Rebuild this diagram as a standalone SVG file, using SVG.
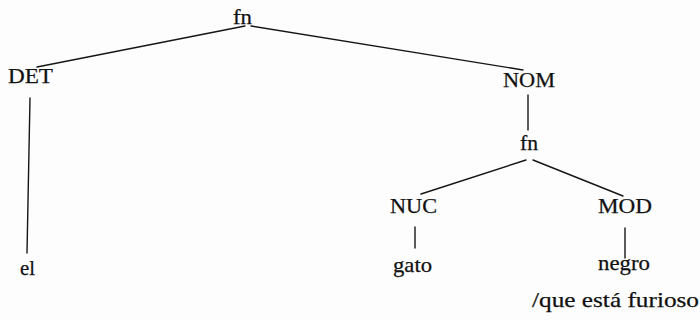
<svg xmlns="http://www.w3.org/2000/svg" width="700" height="320" viewBox="0 0 700 320">
<style>
text{font-family:"Liberation Serif","Times New Roman",serif;font-size:21px;fill:#111;stroke:#111;stroke-width:0.25}
.e{stroke:#161616;stroke-width:1.4;fill:none;stroke-linecap:round}
</style>
<rect width="700" height="320" fill="#fdfdfd"/>
<g id="connectors">
<line class="e" x1="245" y1="26" x2="37" y2="67"/>
<line class="e" x1="251" y1="26" x2="523" y2="70"/>
<line class="e" x1="30" y1="98" x2="27" y2="253"/>
<line class="e" x1="528" y1="95" x2="528" y2="130"/>
<line class="e" x1="526" y1="160" x2="421" y2="194"/>
<line class="e" x1="533" y1="160" x2="623" y2="196"/>
<line class="e" x1="415" y1="227" x2="415" y2="248"/>
<line class="e" x1="625" y1="228" x2="625" y2="258"/>
</g>
<g id="fn1"><text x="233" y="24" textLength="19" lengthAdjust="spacingAndGlyphs">fn</text></g>
<g id="det"><text x="8" y="83" textLength="45" lengthAdjust="spacingAndGlyphs">DET</text></g>
<g id="el"><text x="20" y="275" textLength="15" lengthAdjust="spacingAndGlyphs">el</text></g>
<g id="nom"><text x="503" y="87" textLength="52" lengthAdjust="spacingAndGlyphs">NOM</text></g>
<g id="fn2"><text x="520" y="150" textLength="18" lengthAdjust="spacingAndGlyphs">fn</text></g>
<g id="nuc"><text x="390" y="213" textLength="47" lengthAdjust="spacingAndGlyphs">NUC</text></g>
<g id="gato"><text x="393" y="272" textLength="39" lengthAdjust="spacingAndGlyphs">gato</text></g>
<g id="mod"><text x="598" y="213" textLength="54" lengthAdjust="spacingAndGlyphs">MOD</text></g>
<g id="negro"><text x="598" y="270" textLength="52" lengthAdjust="spacingAndGlyphs">negro</text><text x="532" y="307" textLength="167" lengthAdjust="spacingAndGlyphs">/que está furioso</text></g>
</svg>
